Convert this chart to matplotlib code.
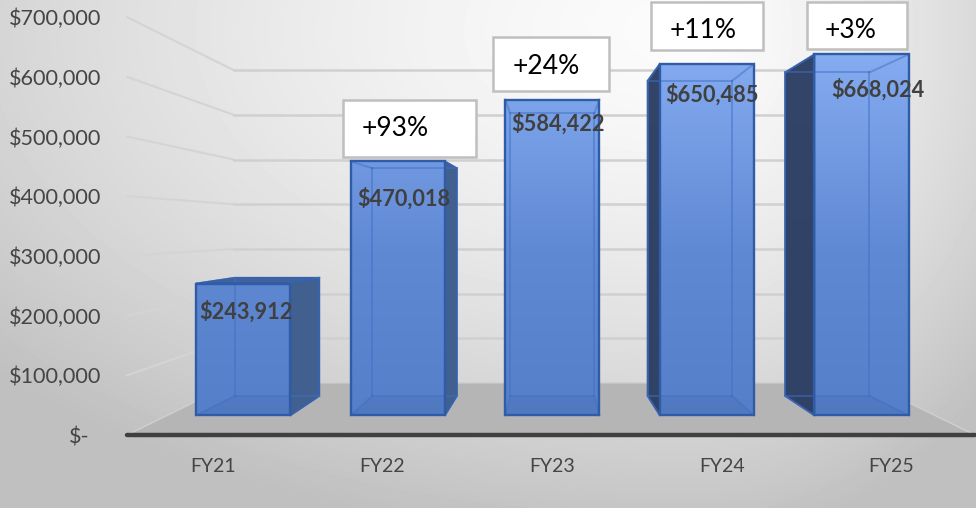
import matplotlib
matplotlib.use('Agg')
import matplotlib.pyplot as plt
import numpy as np
from matplotlib.patches import Polygon, Rectangle

categories = ['FY21', 'FY22', 'FY23', 'FY24', 'FY25']
revenue = [243912, 470018, 584422, 650485, 668024]
growth_labels = [None, '+93%', '+24%', '+11%', '+3%']
axis_ticks = [0, 100000, 200000, 300000, 400000, 500000, 600000, 700000]
tick_labels = ['$-', '$100,000', '$200,000', '$300,000', '$400,000',
               '$500,000', '$600,000', '$700,000']

# hand placed bits of the original slide
label_offset = [(3, 28), (6, 37), (6, 24), (5, 31), (16, 35)]
growth_boxes = [None, (343, 100, 133, 57), (493, 37, 116, 54),
                (651, 2, 112, 48), (807, 2, 100, 47)]
growth_text_dx = [0, 52, 53, 52, 44]

plt.rcParams['font.family'] = ['Lato', 'DejaVu Sans']

# perspective set up, depth scale 1 = front of floor
VX, VY = 551, 228
BASE_Y = 435
PX_PER_DOLLAR = 59.7 / 100000
SLOT = 169.6
BAR_W = 104
S_FRONT, S_BACK, S_WALL = 0.905, 0.811, 0.748


def project(xoff, value, s):
    x = VX + s * xoff
    y = VY + s * (BASE_Y - VY - value * PX_PER_DOLLAR)
    return x, y


fig = plt.figure(figsize=(9.76, 5.08), dpi=100)
ax = fig.add_axes([0, 0, 1, 1])

# background, soft off-centre grey
xx, yy = np.meshgrid(np.arange(976), np.arange(508))
dx = np.where(xx < 690, (xx - 690) / 2.0, (xx - 690) / 0.9)
dy = (yy - 30) / 1.1
dist = np.sqrt(dx ** 2 + dy ** 2)
bg = 0.985 - np.minimum(0.2 * (dist / 420) ** 1.5, 0.235)
ax.imshow(bg, cmap='gray', vmin=0, vmax=1, extent=(0, 976, 508, 0), aspect='auto', zorder=0)

# floor
xmax = SLOT * 2.5
floor = [project(-xmax, 0, 1), project(xmax, 0, 1), project(xmax, 0, S_WALL), project(-xmax, 0, S_WALL)]
ax.add_patch(Polygon(floor, closed=True, fc='#b5b5b5', ec='#d0d0d0', lw=1, zorder=1))

# gridlines on side wall and back wall
for v in axis_ticks[1:]:
    x0, y0 = project(-xmax, v, 1)
    x1, y1 = project(-xmax, v, S_WALL)
    x2, y2 = project(xmax, v, S_WALL)
    ax.plot([x0, x1], [y0, y1], color='#d4d4d4', lw=1.5, zorder=2, solid_capstyle='round')
    ax.plot([x1, x2], [y1, y2], color='#d0d0d0', lw=1.8, zorder=2)

# bar gradient, lighter to the top of the picture
grad_stops = np.array([60, 250, 415])
r = np.interp(np.arange(508), grad_stops, [0x84, 0x60, 0x55])
g = np.interp(np.arange(508), grad_stops, [0xab, 0x89, 0x7f])
b = np.interp(np.arange(508), grad_stops, [0xf0, 0xd4, 0xc8])
grad = np.stack([r, g, b], axis=1)[:, None, :] / 255.0

for i, val in enumerate(revenue):
    c = (i - 2) * SLOT
    pts = {}
    for name, s, k in (('f', S_FRONT, 1.007), ('b', S_BACK, 1.0)):
        pts[name + 'bl'] = project(c * k + 1.5 - BAR_W / 2, 0, s)
        pts[name + 'br'] = project(c * k + 1.5 + BAR_W / 2, 0, s)
        pts[name + 'tl'] = project(c * k + 1.5 - BAR_W / 2, val, s)
        pts[name + 'tr'] = project(c * k + 1.5 + BAR_W / 2, val, s)

    outline = [pts['ftl'], pts['ftr'], pts['fbr'], pts['fbl']]
    left = [pts['btl'], pts['ftl'], pts['fbl'], pts['bbl']]
    right = [pts['ftr'], pts['btr'], pts['bbr'], pts['fbr']]
    top = [pts['ftl'], pts['ftr'], pts['btr'], pts['btl']]
    bottom = [pts['fbl'], pts['fbr'], pts['bbr'], pts['bbl']]

    # whole body of the bar gets the gradient
    for face in (outline, left, right, top):
        patch = Polygon(face, closed=True, fc='none', ec='none', transform=ax.transData)
        ax.add_patch(patch)
        im = ax.imshow(grad, extent=(0, 976, 508, 0), aspect='auto', zorder=3)
        im.set_clip_path(patch)

    ax.add_patch(Polygon(bottom, closed=True, fc='#1f3864', ec='none', alpha=0.08, zorder=4))

    # dark side faces where the perspective shows them
    if pts['bbl'][0] < pts['fbl'][0] - 1:
        ax.add_patch(Polygon(left, closed=True, fc='#2e3f60', ec='#2f5597', lw=1.3, alpha=0.95, zorder=4))
    if pts['bbr'][0] > pts['fbr'][0] + 1:
        ax.add_patch(Polygon(right, closed=True, fc='#42608f', ec='#2f5597', lw=1.3, zorder=4))
    if pts['btl'][1] < pts['ftl'][1]:
        ax.add_patch(Polygon(top, closed=True, fc='#42629c', ec='#2f5597', lw=1.3, zorder=4))

    # inner edges of the see-through box
    inner = [('btl', 'btr'), ('btr', 'bbr'), ('bbr', 'bbl'), ('bbl', 'btl'),
             ('ftl', 'btl'), ('ftr', 'btr'), ('fbl', 'bbl'), ('fbr', 'bbr')]
    for p, q in inner:
        ax.plot([pts[p][0], pts[q][0]], [pts[p][1], pts[q][1]], color='#3f6fc4', lw=1.4,
                alpha=0.5, zorder=5)

    ax.add_patch(Polygon(outline, closed=True, fc='none', ec='#2f5ca6', lw=1.7, zorder=6))

    tx = (pts['ftl'][0] + pts['ftr'][0]) / 2 + label_offset[i][0]
    ty = pts['ftl'][1] + label_offset[i][1]
    ax.text(tx, ty, '${:,}'.format(val), ha='center', va='center', fontsize=15.7, fontweight='bold',
            color='#404040', zorder=8)

# axis line
x0, y0 = project(-xmax, 0, 1)
x1, y1 = project(xmax, 0, 1)
ax.plot([x0, x1], [y0, y1], color='#404040', lw=3.2, zorder=7, solid_capstyle='round')

# value labels sit on the front plane
for v, lab in zip(axis_ticks, tick_labels):
    y = project(-xmax, v, 1)[1]
    if v == 0:
        ax.text(90, y + 3, lab, ha='right', va='center', fontsize=15.6, color='#454545', zorder=8)
    else:
        ax.text(101, y + 2, lab, ha='right', va='center', fontsize=15.6, color='#454545', zorder=8)

for i, cat in enumerate(categories):
    ax.text(VX + (i - 2) * SLOT + 1, 466, cat, ha='center', va='center', fontsize=14,
            color='#454545', zorder=8)

# growth callouts
for box, lab, tdx in zip(growth_boxes, growth_labels, growth_text_dx):
    if box is None:
        continue
    bx, by, bw, bh = box
    ax.add_patch(Rectangle((bx, by), bw, bh, fc='white', ec='#bfbfbf', lw=1.8, zorder=9))
    ax.text(bx + tdx, by + 29, lab, ha='center', va='center', fontsize=19,
            color='black', zorder=10)

ax.set_xlim(0, 976)
ax.set_ylim(508, 0)
ax.axis('off')

fig.savefig('out.png', dpi=100)
